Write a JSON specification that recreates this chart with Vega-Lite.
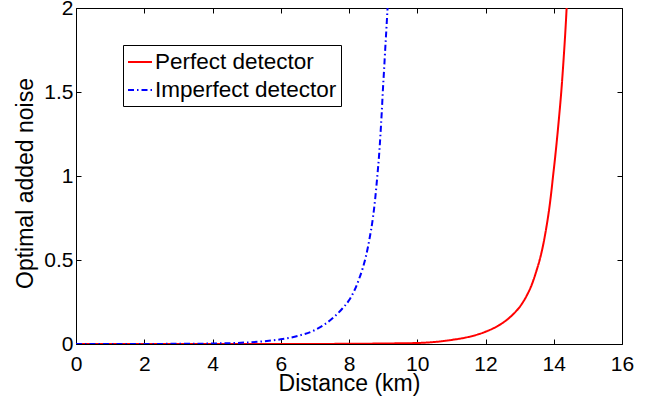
{
  "$schema": "https://vega.github.io/schema/vega-lite/v6.json",
  "width": 546,
  "height": 336,
  "autosize": {"type": "none"},
  "padding": {"left": 76, "top": 8, "right": 43, "bottom": 59},
  "background": "white",
  "config": {
    "font": "Liberation Sans",
    "view": {"stroke": "black", "strokeWidth": 1},
    "axis": {
      "grid": false,
      "domain": false,
      "offset": -5,
      "tickColor": "black",
      "tickSize": 5,
      "tickWidth": 1,
      "labelColor": "black",
      "titleColor": "black",
      "labelFont": "Liberation Sans",
      "titleFont": "Liberation Sans",
      "titleFontWeight": "normal",
      "labelFontSize": 21,
      "titleFontSize": 23,
      "labelFlush": false,
      "labelOverlap": false,
      "format": "~g"
    }
  },
  "data": {
    "values": [
      {"series": "Perfect detector", "d": 0, "v": 0},
      {"series": "Perfect detector", "d": 4, "v": 0.0001},
      {"series": "Perfect detector", "d": 6, "v": 0.0003},
      {"series": "Perfect detector", "d": 8, "v": 0.001},
      {"series": "Perfect detector", "d": 9, "v": 0.003},
      {"series": "Perfect detector", "d": 10, "v": 0.006},
      {"series": "Perfect detector", "d": 10.5, "v": 0.012},
      {"series": "Perfect detector", "d": 11, "v": 0.024},
      {"series": "Perfect detector", "d": 11.5, "v": 0.042},
      {"series": "Perfect detector", "d": 12, "v": 0.073},
      {"series": "Perfect detector", "d": 12.5, "v": 0.125},
      {"series": "Perfect detector", "d": 12.8, "v": 0.175},
      {"series": "Perfect detector", "d": 13, "v": 0.22},
      {"series": "Perfect detector", "d": 13.2, "v": 0.285},
      {"series": "Perfect detector", "d": 13.35, "v": 0.35},
      {"series": "Perfect detector", "d": 13.5, "v": 0.44},
      {"series": "Perfect detector", "d": 13.6, "v": 0.51},
      {"series": "Perfect detector", "d": 13.7, "v": 0.6},
      {"series": "Perfect detector", "d": 13.78, "v": 0.69},
      {"series": "Perfect detector", "d": 13.85, "v": 0.78},
      {"series": "Perfect detector", "d": 13.92, "v": 0.89},
      {"series": "Perfect detector", "d": 13.98, "v": 1.0},
      {"series": "Perfect detector", "d": 14.04, "v": 1.11},
      {"series": "Perfect detector", "d": 14.1, "v": 1.23},
      {"series": "Perfect detector", "d": 14.16, "v": 1.36},
      {"series": "Perfect detector", "d": 14.22, "v": 1.5},
      {"series": "Perfect detector", "d": 14.26, "v": 1.61},
      {"series": "Perfect detector", "d": 14.3, "v": 1.73},
      {"series": "Perfect detector", "d": 14.34, "v": 1.86},
      {"series": "Perfect detector", "d": 14.37, "v": 1.97},
      {"series": "Perfect detector", "d": 14.38, "v": 2.01},
      {"series": "Imperfect detector", "d": 0, "v": 0},
      {"series": "Imperfect detector", "d": 3, "v": 0.001},
      {"series": "Imperfect detector", "d": 4, "v": 0.003},
      {"series": "Imperfect detector", "d": 4.5, "v": 0.005},
      {"series": "Imperfect detector", "d": 5, "v": 0.009},
      {"series": "Imperfect detector", "d": 5.5, "v": 0.016},
      {"series": "Imperfect detector", "d": 6, "v": 0.028},
      {"series": "Imperfect detector", "d": 6.5, "v": 0.048},
      {"series": "Imperfect detector", "d": 7, "v": 0.083},
      {"series": "Imperfect detector", "d": 7.5, "v": 0.15},
      {"series": "Imperfect detector", "d": 7.8, "v": 0.21},
      {"series": "Imperfect detector", "d": 8, "v": 0.26},
      {"series": "Imperfect detector", "d": 8.15, "v": 0.315},
      {"series": "Imperfect detector", "d": 8.3, "v": 0.39},
      {"series": "Imperfect detector", "d": 8.4, "v": 0.45},
      {"series": "Imperfect detector", "d": 8.5, "v": 0.525},
      {"series": "Imperfect detector", "d": 8.6, "v": 0.625},
      {"series": "Imperfect detector", "d": 8.7, "v": 0.75},
      {"series": "Imperfect detector", "d": 8.77, "v": 0.87},
      {"series": "Imperfect detector", "d": 8.83, "v": 1.0},
      {"series": "Imperfect detector", "d": 8.88, "v": 1.12},
      {"series": "Imperfect detector", "d": 8.92, "v": 1.24},
      {"series": "Imperfect detector", "d": 8.96, "v": 1.38},
      {"series": "Imperfect detector", "d": 8.99, "v": 1.5},
      {"series": "Imperfect detector", "d": 9.03, "v": 1.64},
      {"series": "Imperfect detector", "d": 9.06, "v": 1.75},
      {"series": "Imperfect detector", "d": 9.1, "v": 1.89},
      {"series": "Imperfect detector", "d": 9.13, "v": 2.0}
    ]
  },
  "layer": [
    {
      "mark": {"type": "line", "strokeWidth": 2, "clip": true, "interpolate": "monotone"},
      "encoding": {
        "x": {
          "field": "d", "type": "quantitative",
          "scale": {"domain": [0, 16], "nice": false, "zero": false},
          "axis": {"values": [0, 2, 4, 6, 8, 10, 12, 14, 16], "title": "Distance (km)", "labelPadding": 9, "titleBaseline": "alphabetic", "titleY": 51, "titleX": 273}
        },
        "y": {
          "field": "v", "type": "quantitative",
          "scale": {"domain": [0, 2], "nice": false, "zero": false},
          "axis": {"values": [0, 0.5, 1, 1.5, 2], "title": "Optimal added noise", "labelPadding": 3, "titleBaseline": "alphabetic", "titleX": -49, "titleY": 175, "titleAngle": -90}
        },
        "color": {
          "field": "series", "type": "nominal",
          "scale": {"domain": ["Perfect detector", "Imperfect detector"], "range": ["#ff0000", "#0000ff"]},
          "legend": {
            "title": null,
            "orient": "none",
            "legendX": 47,
            "legendY": 37,
            "strokeColor": "black",
            "fillColor": "white",
            "padding": 4,
            "symbolType": "stroke",
            "symbolSize": 576,
            "symbolStrokeWidth": 2,
            "labelFontSize": 22.5,
            "labelColor": "black",
            "labelFont": "Liberation Sans",
            "labelOffset": 2,
            "labelLimit": 400,
            "rowPadding": 3
          }
        },
        "strokeDash": {
          "field": "series", "type": "nominal",
          "scale": {"domain": ["Perfect detector", "Imperfect detector"], "range": [[1, 0], [6, 3, 1.5, 3]]},
          "legend": null
        }
      }
    },
    {
      "mark": {"type": "point", "opacity": 0},
      "encoding": {
        "x": {
          "field": "d", "type": "quantitative",
          "axis": {"orient": "top", "values": [0, 2, 4, 6, 8, 10, 12, 14, 16], "labels": false, "title": null}
        },
        "y": {
          "field": "v", "type": "quantitative",
          "axis": {"orient": "right", "values": [0, 0.5, 1, 1.5, 2], "labels": false, "title": null}
        }
      }
    }
  ],
  "resolve": {"axis": {"x": "independent", "y": "independent"}}
}
